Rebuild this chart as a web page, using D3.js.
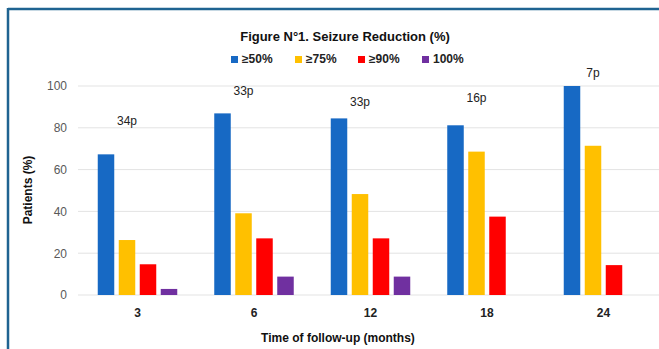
<!DOCTYPE html>
<html><head><meta charset="utf-8">
<script src="https://cdn.jsdelivr.net/npm/d3@7"></script>
<style>
html,body{margin:0;padding:0;background:#fff;}
svg{display:block;}
</style></head>
<body>
<script>
const categories = ["3", "6", "12", "18", "24"];
const seriesNames = ["≥50%", "≥75%", "≥90%", "100%"];
const s50  = [67.3, 86.9, 84.5, 81.2, 100];
const s75  = [26.3, 39.1, 48.3, 68.6, 71.4];
const s90  = [14.7, 27.1, 27.1, 37.5, 14.3];
const s100 = [2.9, 8.8, 8.8, 0, 0];
const patientLabels = ["34p", "33p", "33p", "16p", "7p"];
const patientLabelLevel = [83, 97, 92, 94, 106];
const yTicks = [0, 20, 40, 60, 80, 100];
const colors = ["#1769c4", "#ffc000", "#ff0000", "#7030a0"];

const seriesValues = [s50, s75, s90, s100];
const W = 659, H = 349;
const svg = d3.select("body").append("svg").attr("width", W).attr("height", H);
const font = "'Liberation Sans', Arial, sans-serif";

// frame
svg.append("line").attr("x1", 8).attr("x2", W).attr("y1", 9).attr("y2", 9)
  .attr("stroke", "#1f6391").attr("stroke-width", 2.5);
svg.append("line").attr("x1", 8).attr("x2", 8).attr("y1", 8).attr("y2", H)
  .attr("stroke", "#1f6391").attr("stroke-width", 2.5);

const y = d3.scaleLinear().domain([0, 100]).range([295, 86]);
const x0 = d3.scaleBand().domain(categories).range([79.25, 661.75]).paddingInner(0.3176).paddingOuter(0.1588);
const x1 = d3.scaleBand().domain(seriesNames).range([0, x0.bandwidth()]).paddingInner(0.214).paddingOuter(0);

// gridlines
svg.append("g").selectAll("line").data(yTicks).join("line")
  .attr("x1", 78).attr("x2", W).attr("y1", d => y(d)).attr("y2", d => y(d))
  .attr("stroke", "#e3e3e3").attr("stroke-width", 1);

// y axis labels
const yAxis = d3.axisLeft(y).tickValues(yTicks).tickSize(0).tickPadding(0);
const yg = svg.append("g").attr("transform", "translate(67,0)").call(yAxis);
yg.select(".domain").remove();
yg.selectAll("text").attr("font-family", font).attr("font-size", 12).attr("fill", "#595959");

// bars
const groups = svg.append("g").selectAll("g").data(categories).join("g")
  .attr("transform", d => `translate(${x0(d)},0)`);
groups.selectAll("rect").data((d, i) => seriesNames.map((s, j) => ({s, v: seriesValues[j][i], c: colors[j]})))
  .join("rect")
  .filter(d => d.v > 0)
  .attr("x", d => x1(d.s)).attr("width", x1.bandwidth())
  .attr("y", d => y(d.v)).attr("height", d => y(0) - y(d.v))
  .attr("fill", d => d.c);

// patient labels
svg.append("g").selectAll("text").data(categories).join("text")
  .attr("x", d => x0(d) + x1(seriesNames[1]) + x1.bandwidth() / 2)
  .attr("y", (d, i) => y(patientLabelLevel[i]))
  .attr("text-anchor", "middle").attr("dominant-baseline", "middle")
  .attr("font-family", font).attr("font-size", 12).attr("fill", "#222")
  .text((d, i) => patientLabels[i]);

// x axis labels
const xAxis = d3.axisBottom(x0).tickSize(0).tickPadding(0);
const xg = svg.append("g").attr("transform", "translate(0,308)").call(xAxis);
xg.select(".domain").remove();
xg.selectAll("text").attr("font-family", font).attr("font-size", 12).attr("font-weight", "bold").attr("fill", "#222");

// titles
svg.append("text").attr("x", 345).attr("y", 41).attr("text-anchor", "middle")
  .attr("font-family", font).attr("font-size", 13).attr("font-weight", "bold").attr("fill", "#111")
  .text("Figure N°1. Seizure Reduction (%)");
svg.append("text").attr("x", 338).attr("y", 342).attr("text-anchor", "middle")
  .attr("font-family", font).attr("font-size", 12).attr("font-weight", "bold").attr("fill", "#111")
  .text("Time of follow-up (months)");
svg.append("text").attr("transform", "translate(32,190) rotate(-90)").attr("text-anchor", "middle")
  .attr("font-family", font).attr("font-size", 12).attr("font-weight", "bold").attr("fill", "#111")
  .text("Patients  (%)");

// legend
const legendX = [231, 295, 358, 422];
const lg = svg.append("g").selectAll("g").data(seriesNames).join("g")
  .attr("transform", (d, i) => `translate(${legendX[i]},60)`);
lg.append("rect").attr("x", 0).attr("y", -4).attr("width", 7).attr("height", 7).attr("fill", (d, i) => colors[i]);
lg.append("text").attr("x", 11).attr("y", 0).attr("dominant-baseline", "middle")
  .attr("font-family", font).attr("font-size", 12).attr("font-weight", "bold").attr("fill", "#222")
  .text(d => d);
</script>
</body></html>
